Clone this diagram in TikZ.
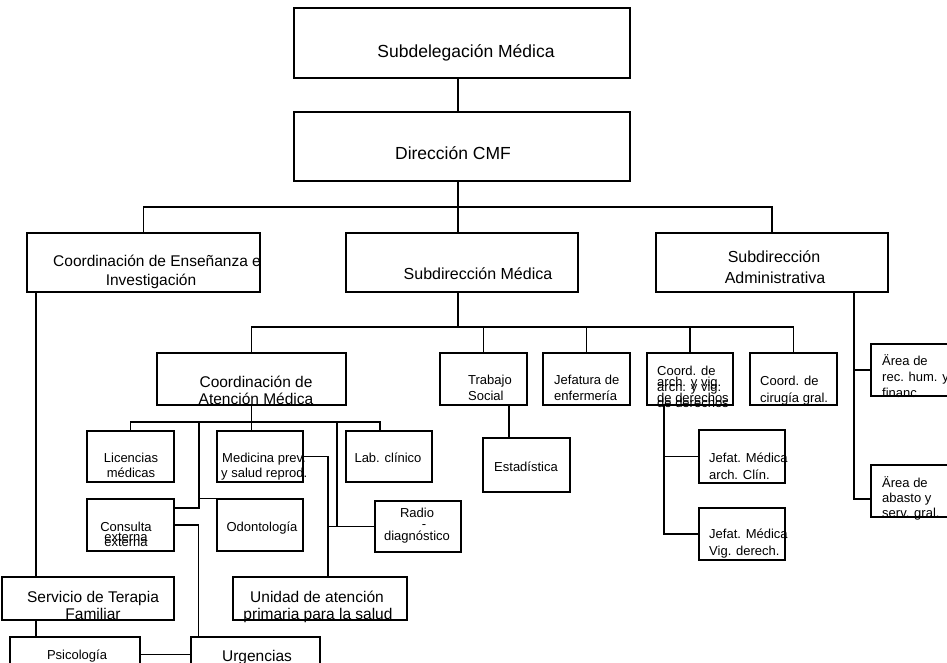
\documentclass[tikz,border=0pt]{standalone}
\usepackage{fontspec}
\setmainfont{Liberation Sans}
\usetikzlibrary{fit}
\newcommand\setfs[1]{\fontsize{#1}{#1}\selectfont}
\tikzset{
  box/.style={draw, line width=1.2pt, inner sep=0pt},
  link/.style={line width=1.1pt},
  heavy/.style={line width=2.4pt},
  lbl/.style={anchor=base, inner sep=0pt},
  lblw/.style={anchor=base west, inner sep=0pt},
  big/.style={font=\setfs{17.5}},
  mid/.style={font=\setfs{15.5}},
  sml/.style={font=\setfs{13}},
}
\begin{document}
\begin{tikzpicture}[x=1pt, y=-1pt]
\useasboundingbox (0,0) rectangle (947,663);
\clip (0,0) rectangle (947,663);

% ---- boxes ----
\node[box, fit={(294,8) (630,78)}] (sdm) {};
\node[box, fit={(294,112) (630,181)}] (dir) {};
\node[box, fit={(27,233) (260,292)}] (cen) {};
\node[box, fit={(346,233) (578,292)}] (sme) {};
\node[box, fit={(656,233) (888,292)}] (sad) {};
\node[box, fit={(157,353) (346,405)}] (cam) {};
\node[box, fit={(440,353) (527,405)}] (ts) {};
\node[box, fit={(543,353) (630,405)}] (jef) {};
\node[box, fit={(647,353) (733,405)}] (carch) {};
\node[box, fit={(750,353) (837,405)}] (cir) {};
\node[box, fit={(483,438) (570,492)}] (est) {};
\node[box, fit={(699,430) (785,483)}] (jm1) {};
\node[box, fit={(699,508) (785,560)}] (jm2) {};
\node[box, fit={(871,344) (952,396)}] (ar1) {};
\node[box, fit={(871,465) (952,517)}] (ar2) {};
\node[box, fit={(87,431) (174,482)}] (lic) {};
\node[box, fit={(217,431) (303,482)}] (med) {};
\node[box, fit={(346,431) (432,482)}] (lab) {};
\node[box, fit={(87,499) (174,551)}] (con) {};
\node[box, fit={(217,499) (303,551)}] (odo) {};
\node[box, fit={(375,501) (461,552)}] (rad) {};
\node[box, fit={(2,577) (174,620)}] (sft) {};
\node[box, fit={(233,577) (407,620)}] (uni) {};
\node[box, fit={(10,637) (140,672)}] (psi) {};
\node[box, fit={(191,637) (320,672)}] (urg) {};

% ---- bus points ----
\coordinate (bus1) at (458,207);
\coordinate (bus2) at (458,327);
\coordinate (bus3) at (251,422);
\coordinate (j1) at (199,422);
\coordinate (labtap) at (337,422);

% ---- connectors ----
\draw[link] ([xshift=-4pt]sdm.south) -- ([xshift=-4pt]dir.north);
\draw[link] ([xshift=-4pt]dir.south) -- ([xshift=-4pt]sme.north);
\draw[link] (cen.north) |- (bus1) -| (sad.north);

\draw[link] ([xshift=-4pt]sme.south) -- (bus2);
\draw[link] (cam.north) |- (bus2) -| (cir.north);
\draw[link] (ts.north) -- (ts.north |- bus2);
\draw[link] (jef.north) -- (jef.north |- bus2);
\draw[link] (carch.north) -- (carch.north |- bus2);

\draw[link] ([xshift=25.5pt]ts.south) -- ([xshift=25.5pt]ts.south |- est.north);

\draw[link] ([xshift=-26pt]carch.south) |- (jm2.west);
\draw[link] (jm1.west) -- (jm1.west -| jm2.west) -- ++(-35,0);

\draw[link] ([xshift=82pt]sad.south) |- ([yshift=-8pt]ar2.west);
\draw[link] (ar1.west) -- ++(-17,0);

\draw[link] (cam.south) -- (cam.south |- med.north);
\draw[link] (lic.north) |- (bus3) -| ([xshift=-9pt]lab.north);

\draw[link] (j1) |- ([yshift=17pt]con.east);
\draw[link] (odo.north west) -- (odo.north west -| j1);
\draw[link] (con.east) -| ([xshift=8pt]urg.north west);

\draw[link] (med.east) -| ([xshift=8pt]uni.north);
\draw[heavy] (labtap) -- (labtap |- rad.west);
\draw[link] (rad.west) -- ([xshift=8pt]uni.north |- rad.west);

\draw[link] ([xshift=-107.5pt]cen.south) -- ([xshift=-107.5pt]cen.south |- sft.north);
\draw[link] ([xshift=-52pt]sft.south) -- ([xshift=-52pt]sft.south |- psi.north);
\draw[link] (psi.east) -- (urg.west);

% ---- labels ----
\node[lbl, big] (t-sdm) at (466,57.3) {Subdelegación Médica};
\node[lbl, big] (t-dir) at (453,159.3) {Dirección CMF};

\node[lblw, mid] (t-cen1) at (53,266.6) {Coordinación de Enseñanza e};
\node[lbl, mid] (t-cen2) at (151,285.6) {Investigación};
\node[lbl, font=\setfs{16}] (t-sme) at (478,279) {Subdirección Médica};
\node[lbl, font=\setfs{16}] (t-sad1) at (774,262) {Subdirección};
\node[lbl, font=\setfs{16}] (t-sad2) at (775,283) {Administrativa};

\node[lbl, mid] (t-cam1) at (256,387.6) {Coordinación de};
\node[lbl, mid] (t-cam2) at (256,404.6) {Atención Médica};
\node[lblw, sml] (t-ts1) at (468,384.5) {Trabajo};
\node[lblw, sml] (t-ts2) at (468,400.5) {Social};
\node[lblw, sml] (t-jef1) at (554,384.5) {Jefatura de};
\node[lblw, sml] (t-jef2) at (554,400.5) {enfermería};
\node[lblw, sml] (t-ca1) at (657,375.2) {Coord. de};
\node[lblw, sml] (t-ca2) at (657,386.2) {arch. y vig.};
\node[lblw, sml] (t-ca3) at (657,391.2) {arch. y vig.};
\node[lblw, sml] (t-ca4) at (657,402.8) {de derechos};
\node[lblw, sml] (t-ca5) at (657,407.8) {de derechos};
\node[lblw, sml] (t-cir1) at (760,385.5) {Coord. de};
\node[lblw, sml] (t-cir2) at (760,402.5) {cirugía gral.};

\node[lbl, sml] (t-est) at (526,471.5) {Estadística};
\node[lblw, sml] (t-jm11) at (709,462.5) {Jefat. Médica};
\node[lblw, sml] (t-jm12) at (709,479.5) {arch. Clín.};
\node[lblw, sml] (t-jm21) at (709,538.5) {Jefat. Médica};
\node[lblw, sml] (t-jm22) at (709,555.5) {Vig. derech.};

\node[lblw, sml] (t-a11) at (882,365.5) {Ärea de};
\node[lblw, sml] (t-a12) at (882,381.5) {rec. hum. y};
\node[lblw, sml] (t-a13) at (882,397.5) {financ.};
\node[lblw, sml] (t-a21) at (882,487.5) {Ärea de};
\node[lblw, sml] (t-a22) at (882,502.5) {abasto y};
\node[lblw, sml] (t-a23) at (882,517.5) {serv. gral.};

\node[lbl, sml] (t-lic1) at (131,462.5) {Licencias};
\node[lbl, sml] (t-lic2) at (131,477.5) {médicas};
\node[lblw, sml] (t-med1) at (222,462.5) {Medicina prev.};
\node[lblw, sml] (t-med2) at (221,477.5) {y salud reprod.};
\node[lbl, sml] (t-lab) at (388,462.5) {Lab. clínico};
\node[lbl, sml] (t-con1) at (126,531.5) {Consulta};
\node[lbl, sml] (t-con2) at (126,541.5) {externa};
\node[lbl, sml] (t-con3) at (126,546.5) {externa};
\node[lbl, sml] (t-odo) at (262,531.5) {Odontología};
\node[lbl, sml] (t-rad1) at (417,517.5) {Radio};
\node[lbl, sml] (t-rad2) at (424,528) {-};
\node[lbl, sml] (t-rad3) at (417,540.5) {diagnóstico};

\node[lbl, mid] (t-sft1) at (93,602.5) {Servicio de Terapia};
\node[lbl, mid] (t-sft2) at (93,619.5) {Familiar};
\node[lbl, mid] (t-uni1) at (317,602.5) {Unidad de atención};
\node[lbl, mid] (t-uni2) at (318,619.5) {primaria para la salud};
\node[lbl, font=\setfs{13}] (t-psi) at (77,659.7) {Psicología};
\node[lbl, mid] (t-urg) at (257,661.5) {Urgencias};
\end{tikzpicture}
\end{document}
